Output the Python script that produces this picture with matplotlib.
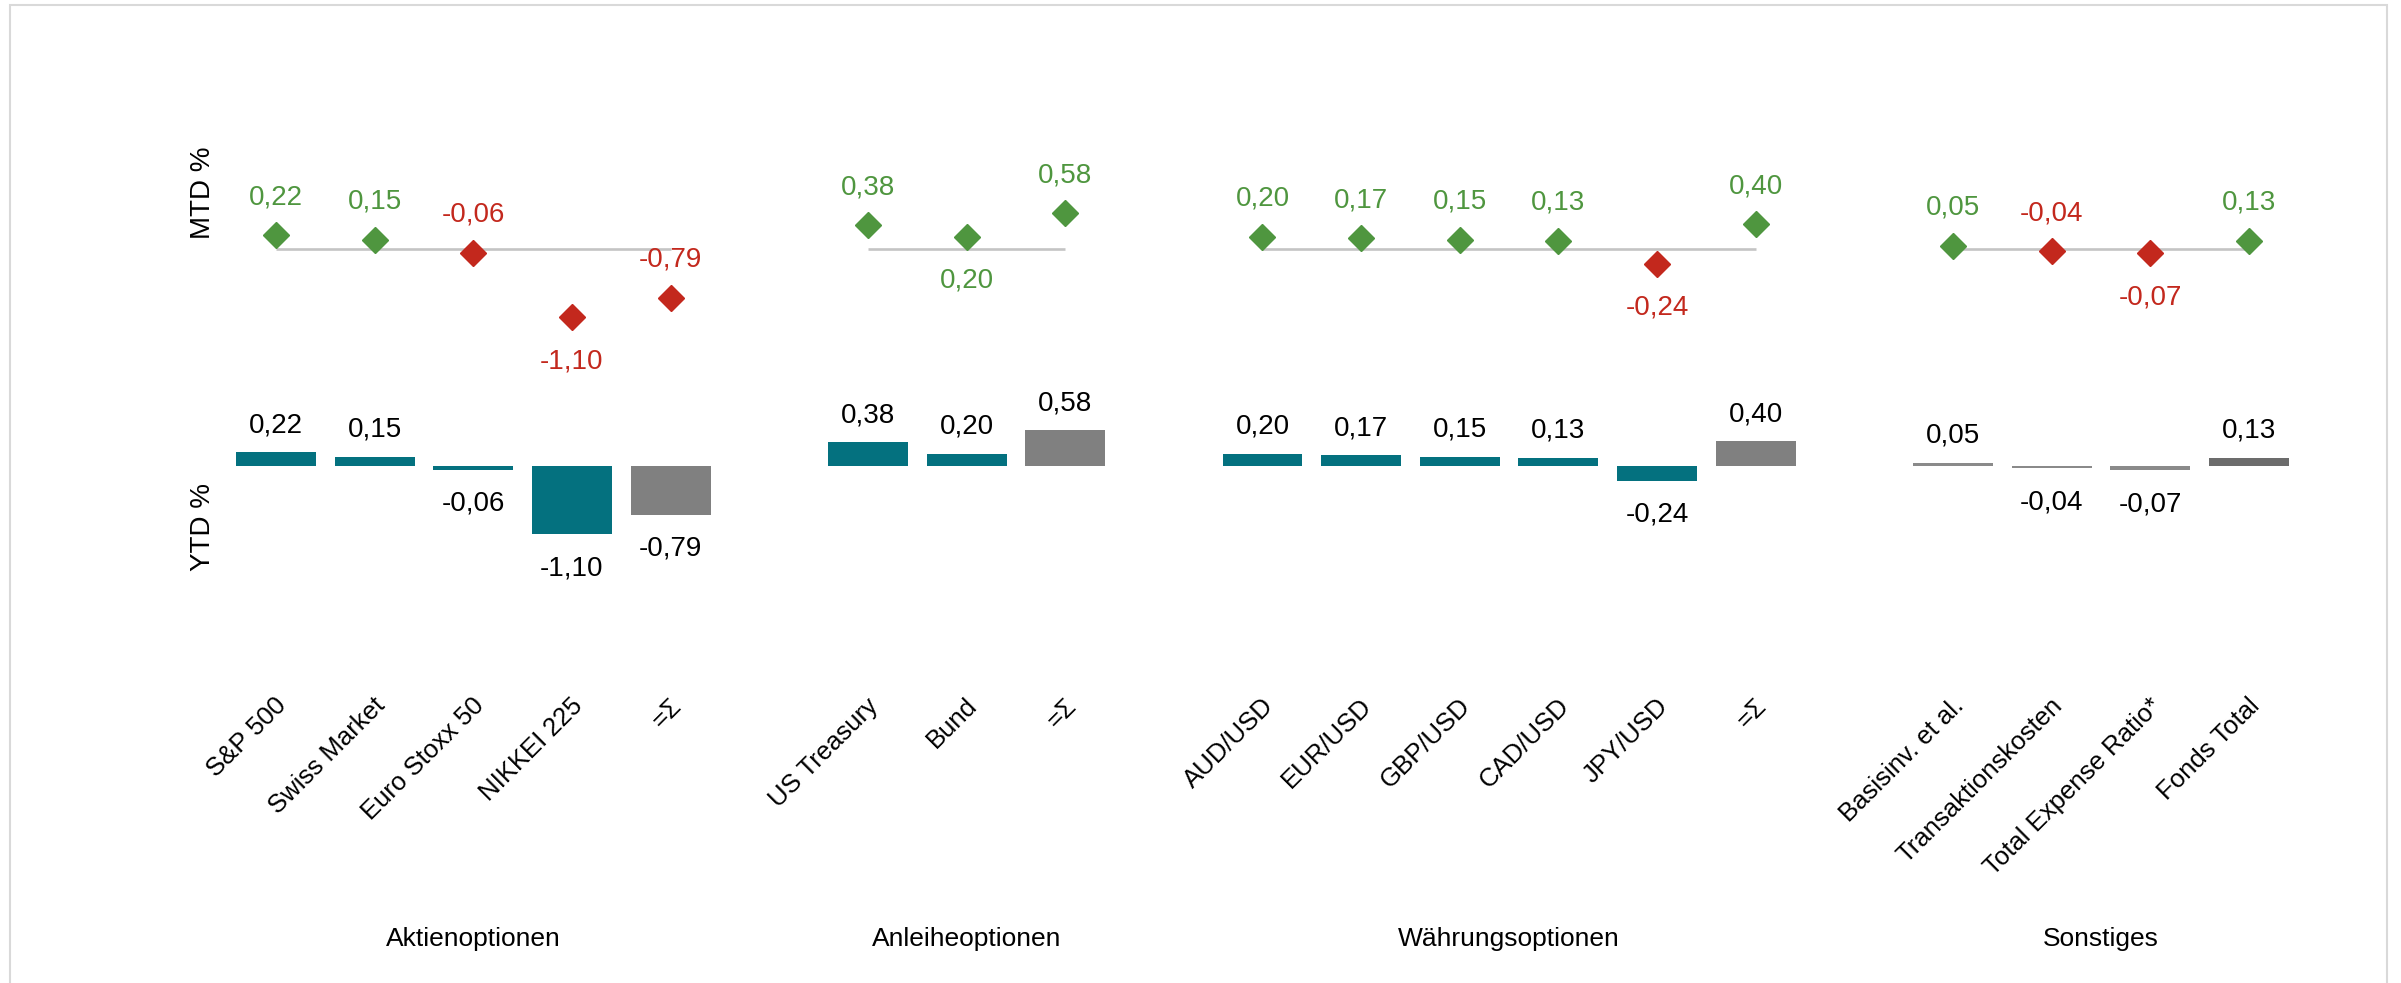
import matplotlib
matplotlib.use("Agg")
import matplotlib.pyplot as plt
from matplotlib.transforms import ScaledTranslation, blended_transform_factory
from matplotlib.patches import Rectangle

plt.rcParams['font.family'] = ['Liberation Sans', 'DejaVu Sans']

# ---------------- data ----------------
groups = ["Aktienoptionen", "Anleiheoptionen", "Währungsoptionen", "Sonstiges"]

cats_aktien = ["S&P 500", "Swiss Market", "Euro Stoxx 50", "NIKKEI 225", "=Σ"]
cats_anleihe = ["US Treasury", "Bund", "=Σ"]
cats_waehrung = ["AUD/USD", "EUR/USD", "GBP/USD", "CAD/USD", "JPY/USD", "=Σ"]
cats_sonst = ["Basisinv. et al.", "Transaktionskosten", "Total Expense Ratio*", "Fonds Total"]

mtd_aktien = [0.22, 0.15, -0.06, -1.10, -0.79]
mtd_anleihe = [0.38, 0.20, 0.58]
mtd_waehrung = [0.20, 0.17, 0.15, 0.13, -0.24, 0.40]
mtd_sonst = [0.05, -0.04, -0.07, 0.13]

ytd_aktien = [0.22, 0.15, -0.06, -1.10, -0.79]
ytd_anleihe = [0.38, 0.20, 0.58]
ytd_waehrung = [0.20, 0.17, 0.15, 0.13, -0.24, 0.40]
ytd_sonst = [0.05, -0.04, -0.07, 0.13]

# MTD label placed below the marker?
mtd_below_aktien = [False, False, False, True, False]
mtd_below_anleihe = [False, True, False]
mtd_below_waehrung = [False, False, False, False, True, False]
mtd_below_sonst = [False, False, True, False]

group_cats = [cats_aktien, cats_anleihe, cats_waehrung, cats_sonst]
group_mtd = [mtd_aktien, mtd_anleihe, mtd_waehrung, mtd_sonst]
group_ytd = [ytd_aktien, ytd_anleihe, ytd_waehrung, ytd_sonst]
group_below = [mtd_below_aktien, mtd_below_anleihe, mtd_below_waehrung, mtd_below_sonst]

# ---------------- style ----------------
TEAL = '#04717F'
GREEN = '#4F963F'
RED = '#C3281D'
SUMGRAY = '#808080'
OTHERGRAY = '#8A8A8A'
TOTALGRAY = '#6C6C6C'
LINEGRAY = '#C4C4C4'

W, H, DPI = 2401, 983, 100
fig = plt.figure(figsize=(W / DPI, H / DPI), dpi=DPI)

# layout in pixels
slot_px = 98.65
x0_px = 276.0
ytd_zero_top = 466.0
mtd_zero_top = 249.0
unit_px = 62.0
ax_bottom_top = 700.0
ax_top_top = 60.0

# slot positions (one empty slot between groups)
positions = []
pos = 0
for cats in group_cats:
    positions.append(list(range(pos, pos + len(cats))))
    pos += len(cats) + 1
n_slots = pos - 1

left_px = x0_px - 0.5 * slot_px
width_px = n_slots * slot_px
bottom_px = H - ax_bottom_top
height_px = ax_bottom_top - ax_top_top
ax = fig.add_axes([left_px / W, bottom_px / H, width_px / W, height_px / H])
ax.set_xlim(-0.5, n_slots - 0.5)
ylow = -((H - ytd_zero_top) - bottom_px) / unit_px
ax.set_ylim(ylow, ylow + height_px / unit_px)
for s in ax.spines.values():
    s.set_visible(False)
ax.set_yticks([])

mtd_trans = ax.transData + ScaledTranslation(0, (ytd_zero_top - mtd_zero_top) / DPI, fig.dpi_scale_trans)

def fmt(v):
    return f"{v:.2f}".replace('.', ',')

all_pos, all_labels = [], []
for gi, (cats, mtd, ytd, below, xs) in enumerate(zip(group_cats, group_mtd, group_ytd, group_below, positions)):
    # MTD baseline
    ax.plot([xs[0], xs[-1]], [0, 0], color=LINEGRAY, lw=1.9, transform=mtd_trans, zorder=1,
            solid_capstyle='butt')
    # bars
    colors = []
    for c in cats:
        if c == "=Σ":
            colors.append(SUMGRAY)
        elif gi == len(group_cats) - 1:
            colors.append(TOTALGRAY if c == "Fonds Total" else OTHERGRAY)
        else:
            colors.append(TEAL)
    ax.bar(xs, ytd, width=0.81, color=colors, zorder=2)
    for x, v, c in zip(xs, mtd, below):
        col = GREEN if v >= 0 else RED
        ax.plot([x], [v], marker='D', ms=13.5, color=col, mec=col, transform=mtd_trans,
                zorder=3, linestyle='none')
        off = -51 if c else 31
        ax.annotate(fmt(v), xy=(x, v), xycoords=mtd_trans, xytext=(0, off),
                    textcoords='offset pixels', ha='center', va='baseline',
                    fontsize=20, color=col)
    for x, v in zip(xs, ytd):
        off = 20 if v >= 0 else -41
        ax.annotate(fmt(v), xy=(x, v), xycoords='data', xytext=(0, off),
                    textcoords='offset pixels', ha='center', va='baseline',
                    fontsize=20, color='black')
    all_pos += xs
    all_labels += cats
    # group title
    tr = blended_transform_factory(ax.transData, fig.transFigure)
    ax.text((xs[0] + xs[-1]) / 2, 1 - 946 / H, groups[gi], transform=tr,
            ha='center', va='baseline', fontsize=19)

ax.set_xticks(all_pos)
ax.set_xticklabels(all_labels, rotation=45, ha='right', va='center',
                   rotation_mode='anchor', fontsize=18.5)
ax.tick_params(axis='x', length=0, pad=9 * 72 / DPI)
shift = ScaledTranslation(7 / DPI, 7 / DPI, fig.dpi_scale_trans)
for lbl in ax.get_xticklabels():
    lbl.set_transform(lbl.get_transform() + shift)

fig.text(203 / W, 1 - 193 / H, "MTD %", rotation=90, ha='center', va='center', fontsize=20)
fig.text(203 / W, 1 - 527 / H, "YTD %", rotation=90, ha='center', va='center', fontsize=20)

fig.patches.append(Rectangle((10 / W, -0.05), (2387 - 10) / W, 1.05 - 5 / H,
                             transform=fig.transFigure, fill=False,
                             edgecolor='#D9D9D9', lw=1.5))

fig.savefig("out.png", dpi=DPI)
